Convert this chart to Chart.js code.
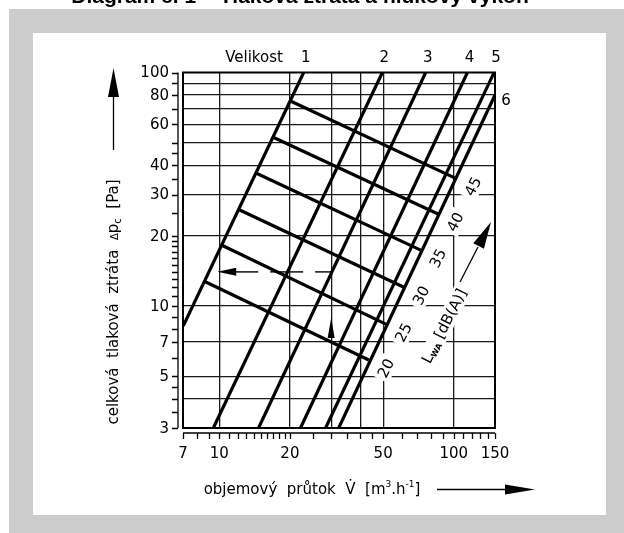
<!DOCTYPE html>
<html>
<head>
<meta charset="utf-8">
<script src="https://cdn.jsdelivr.net/npm/chart.js@4.4.0/dist/chart.umd.min.js"></script>
<style>
  html, body { margin: 0; padding: 0; background: #fff; }
  canvas { display: block; }
</style>
</head>
<body>
<canvas id="chart" width="624" height="533"></canvas>
<script>
// size lines (Velikost 1-6), flow in m3/h, pressure loss in Pa
const sizeNames = ['1', '2', '3', '4', '5', '6'];
const sizeFlowFrom = [7.02, 9.43, 14.7, 22.2, 28.4, 32.3];
const sizeLossFrom = [8.22, 3, 3, 3, 3, 3];
const sizeFlowTo = [22.9, 49.6, 75.9, 114.4, 148.7, 150];
const sizeLossTo = [100, 100, 100, 100, 100, 80.1];

// sound power lines L_WA [dB(A)]
const noiseLevels = [20, 25, 30, 35, 40, 45];
const noiseFlowFrom = [8.71, 10.2, 12.09, 14.39, 16.96, 20.11];
const noiseLossFrom = [12.7, 18.25, 25.9, 37.0, 52.8, 75.5];
const noiseFlowTo = [43.4, 51.6, 61.3, 72.3, 85.7, 102.0];
const noiseLossTo = [5.87, 8.34, 12.02, 17.35, 24.75, 35.2];

// reading example: 30 m3/h -> 14 Pa
const exampleFlow = 30;
const exampleLoss = 14;
const exampleArrowFlow = 9.8;
const exampleArrowLoss = [7.29, 8.87];

const xGrid = [10, 20, 30, 40, 50, 100];
const yGrid = [4, 5, 7, 10, 20, 30, 40, 50, 60, 70, 80, 90];
const xTickLabels = [7, 10, 20, 50, 100, 150];
const yTickLabels = [3, 5, 7, 10, 20, 30, 40, 60, 80, 100];
const xTickMarks = [7, 8, 9, 10, 11, 12, 13, 14, 15, 16, 17, 18, 19, 20, 25, 30, 35, 40, 45, 50,
  60, 70, 80, 90, 100, 110, 120, 130, 140, 150];
const yTickMarks = [3, 3.5, 4, 4.5, 5, 6, 7, 8, 9, 10, 11, 12, 13, 14, 15, 16, 17, 18, 19, 20,
  25, 30, 35, 40, 45, 50, 60, 70, 80, 90, 100];

const FONT = '"DejaVu Sans", sans-serif';
const font = (size, weight) => `${weight || 'normal'} ${size}px ${FONT}`;
const LABEL_ANGLE = -63 * Math.PI / 180;

function arrowHead(ctx, tx, ty, dx, dy, len, half) {
    const l = Math.hypot(dx, dy);
    dx /= l; dy /= l;
    const bx = tx - dx * len, by = ty - dy * len;
    ctx.beginPath();
    ctx.moveTo(tx, ty);
    ctx.lineTo(bx - dy * half, by + dx * half);
    ctx.lineTo(bx + dy * half, by - dx * half);
    ctx.closePath();
    ctx.fill();
}

// text made of runs with different sizes (sub/superscripts), centred on x,y
function richText(ctx, parts, x, y, angle, boxed) {
    ctx.save();
    ctx.translate(x, y);
    ctx.rotate(angle || 0);
    ctx.textAlign = 'left';
    ctx.textBaseline = 'alphabetic';
    let total = 0;
    parts.forEach(p => {
        ctx.font = font(p.size, p.weight);
        p.w = ctx.measureText(p.text).width;
        total += p.w;
    });
    if (boxed) {
        ctx.fillStyle = '#fff';
        ctx.fillRect(-total / 2 - 3, -9, total + 6, 18);
    }
    ctx.fillStyle = '#000';
    let cx = -total / 2;
    parts.forEach(p => {
        ctx.font = font(p.size, p.weight);
        ctx.fillText(p.text, cx, 5 + (p.dy || 0));
        cx += p.w;
    });
    ctx.restore();
}

const nomogram = {
    id: 'nomogram',
    beforeDraw(chart) {
        const ctx = chart.ctx;
        ctx.save();
        ctx.fillStyle = '#fff';
        ctx.fillRect(0, 0, 624, 533);
        ctx.fillStyle = '#000';
        ctx.font = 'bold 21px "Liberation Sans", sans-serif';
        ctx.textAlign = 'center';
        ctx.textBaseline = 'alphabetic';
        ctx.fillText('Diagram č. 1 – Tlaková ztráta a hlukový výkon', 300, 3, 495);
        ctx.fillStyle = '#cccccc';
        ctx.fillRect(9, 9, 615, 524);
        ctx.fillStyle = '#fff';
        ctx.fillRect(33, 33, 573, 482);
        ctx.restore();
    },
    afterDatasetsDraw(chart) {
        const ctx = chart.ctx;
        const xs = chart.scales.x, ys = chart.scales.y;
        const a = chart.chartArea;
        ctx.save();
        ctx.strokeStyle = '#000';
        ctx.fillStyle = '#000';

        // plot frame
        ctx.lineWidth = 2;
        ctx.strokeRect(a.left, a.top, a.right - a.left, a.bottom - a.top);

        // left tick scale
        ctx.lineWidth = 1.3;
        const sx = a.left - 5;
        ctx.beginPath();
        ctx.moveTo(sx, ys.getPixelForValue(100));
        ctx.lineTo(sx, ys.getPixelForValue(3));
        yTickMarks.forEach(v => {
            const y = Math.round(ys.getPixelForValue(v)) + 0.5;
            ctx.moveTo(sx, y);
            ctx.lineTo(sx - 6, y);
        });
        ctx.stroke();

        // bottom tick scale
        const sy = a.bottom + 5;
        ctx.beginPath();
        ctx.moveTo(xs.getPixelForValue(7), sy);
        ctx.lineTo(xs.getPixelForValue(150), sy);
        xTickMarks.forEach(v => {
            const x = Math.round(xs.getPixelForValue(v)) + 0.5;
            ctx.moveTo(x, sy);
            ctx.lineTo(x, sy + 6);
        });
        ctx.stroke();

        // tick labels
        ctx.font = font(15);
        ctx.textAlign = 'right';
        ctx.textBaseline = 'middle';
        yTickLabels.forEach(v => ctx.fillText(String(v), sx - 9, ys.getPixelForValue(v) + 1));
        ctx.textAlign = 'center';
        xTickLabels.forEach(v => ctx.fillText(String(v), xs.getPixelForValue(v), 454));

        // size names along the top
        ctx.fillText('Velikost', 254, 58);
        sizeNames.forEach((n, i) => {
            const x = xs.getPixelForValue(sizeFlowTo[i]);
            const y = ys.getPixelForValue(sizeLossTo[i]);
            if (sizeLossTo[i] >= 100) ctx.fillText(n, x + 2, 58);
            else ctx.fillText(n, x + 11, y + 6);
        });

        // noise level labels, continuing each line
        noiseLevels.forEach((lv, i) => {
            const x0 = xs.getPixelForValue(noiseFlowFrom[i]), y0 = ys.getPixelForValue(noiseLossFrom[i]);
            const x1 = xs.getPixelForValue(noiseFlowTo[i]), y1 = ys.getPixelForValue(noiseLossTo[i]);
            const l = Math.hypot(x1 - x0, y1 - y0);
            const lx = x1 + (x1 - x0) / l * 19, ly = y1 + (y1 - y0) / l * 19;
            richText(ctx, [{ text: String(lv), size: 15 }], lx, ly, LABEL_ANGLE, true);
        });

        // L_WA label with arrow
        richText(ctx, [
            { text: 'L', size: 15 },
            { text: 'WA', size: 8, weight: 'bold', dy: 2 },
            { text: ' [dB(A)]', size: 15 }
        ], 444, 326, LABEL_ANGLE, true);
        ctx.lineWidth = 1.3;
        ctx.beginPath();
        ctx.moveTo(460, 282);
        ctx.lineTo(478, 247);
        ctx.stroke();
        arrowHead(ctx, 491, 222, 31, -60, 27, 6);

        // example arrows
        arrowHead(ctx, xs.getPixelForValue(exampleArrowFlow), ys.getPixelForValue(exampleLoss), -1, 0, 19, 4);
        const vx = xs.getPixelForValue(exampleFlow);
        const vt = ys.getPixelForValue(exampleArrowLoss[1]), vb = ys.getPixelForValue(exampleArrowLoss[0]);
        arrowHead(ctx, vx, vt, 0, -1, vb - vt, 3.5);

        // axis titles
        richText(ctx, [
            { text: 'celková  tlaková  ztráta  ', size: 15 },
            { text: 'Δ', size: 10 },
            { text: 'p', size: 15 },
            { text: 'c', size: 10, dy: 3 },
            { text: '  [Pa]', size: 15 }
        ], 113, 302, -Math.PI / 2, false);
        ctx.lineWidth = 1.3;
        ctx.beginPath();
        ctx.moveTo(113.5, 150);
        ctx.lineTo(113.5, 92);
        ctx.stroke();
        arrowHead(ctx, 113.5, 68, 0, -1, 29, 5.5);

        richText(ctx, [
            { text: 'objemový  průtok  V\u0307  [m', size: 15 },
            { text: '3', size: 9, dy: -7 },
            { text: '.h', size: 15 },
            { text: '-1', size: 9, dy: -7 },
            { text: ']', size: 15 }
        ], 312, 489, 0, false);
        ctx.beginPath();
        ctx.moveTo(437, 489.5);
        ctx.lineTo(508, 489.5);
        ctx.stroke();
        arrowHead(ctx, 535, 489.5, 1, 0, 30, 5);

        ctx.restore();
    }
};

const datasets = [];
sizeNames.forEach((n, i) => {
    datasets.push({
        label: 'Velikost ' + n,
        data: [{ x: sizeFlowFrom[i], y: sizeLossFrom[i] }, { x: sizeFlowTo[i], y: sizeLossTo[i] }],
        borderColor: '#000',
        borderWidth: 3.2,
        pointRadius: 0
    });
});
noiseLevels.forEach((lv, i) => {
    datasets.push({
        label: 'L_WA ' + lv,
        data: [{ x: noiseFlowFrom[i], y: noiseLossFrom[i] }, { x: noiseFlowTo[i], y: noiseLossTo[i] }],
        borderColor: '#000',
        borderWidth: 3.2,
        pointRadius: 0
    });
});
datasets.push({
    label: 'example',
    data: [{ x: exampleFlow, y: exampleLoss }, { x: exampleArrowFlow, y: exampleLoss }],
    borderColor: '#333',
    borderWidth: 1.8,
    borderDash: [33, 12],
    borderDashOffset: 17,
    pointRadius: 0
});

new Chart(document.getElementById('chart'), {
    type: 'line',
    data: { datasets },
    options: {
        responsive: false,
        animation: false,
        events: [],
        layout: { padding: { left: 183, top: 72.5, right: 129, bottom: 105 } },
        plugins: { legend: { display: false }, tooltip: { enabled: false } },
        scales: {
            x: {
                type: 'logarithmic',
                min: 7,
                max: 150,
                afterBuildTicks: s => { s.ticks = xGrid.map(v => ({ value: v })); },
                ticks: { display: false },
                border: { display: false },
                grid: { color: '#1a1a1a', lineWidth: 1.3, drawTicks: false }
            },
            y: {
                type: 'logarithmic',
                min: 3,
                max: 100,
                afterBuildTicks: s => { s.ticks = yGrid.map(v => ({ value: v })); },
                ticks: { display: false },
                border: { display: false },
                grid: { color: '#1a1a1a', lineWidth: 1.3, drawTicks: false }
            }
        }
    },
    plugins: [nomogram]
});
</script>
</body>
</html>
